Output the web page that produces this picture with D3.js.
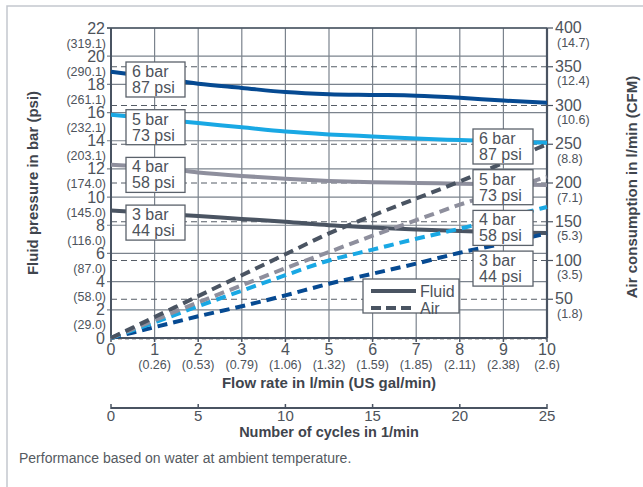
<!DOCTYPE html>
<html><head><meta charset="utf-8">
<script src="https://cdn.jsdelivr.net/npm/d3@7"></script>
<style>
body{margin:0;background:#fff;}
svg{display:block;font-family:"Liberation Sans",Arial,sans-serif;}
</style></head>
<body>
<svg id="c" width="643" height="487"></svg>
<script>
// ---- data ----
const flow = [0,1,2,3,4,5,6,7,8,9,10];
const fluid6 = [18.9,18.5,18.05,17.75,17.45,17.3,17.25,17.2,17.05,16.85,16.7];
const fluid5 = [15.85,15.55,15.25,14.95,14.65,14.45,14.3,14.15,14.05,13.95,13.85];
const fluid4 = [12.3,12.1,11.75,11.5,11.3,11.15,11.05,11.0,10.95,10.9,10.85];
const fluid3 = [9.05,8.85,8.65,8.45,8.25,8.0,7.85,7.7,7.6,7.5,7.45];
const air6 = [0,27,54,81,108,135,158,180,202,226,250];
const air5 = [0,23,46,68,90,111,132,152,172,190,208];
const air4 = [0,20,41,61,81,100,114,128,141,155,169];
const air3 = [0,14,28,41,55,70,83,96,110,122,135];
const barTicks = [0,2,4,6,8,10,12,14,16,18,20,22];
const psiLabels = ["","(29.0)","(58.0)","(87.0)","(116.0)","(145.0)","(174.0)","(203.1)","(232.1)","(261.1)","(290.1)","(319.1)"];
const flowTicks = [0,1,2,3,4,5,6,7,8,9,10];
const galLabels = ["","(0.26)","(0.53)","(0.79)","(1.06)","(1.32)","(1.59)","(1.85)","(2.11)","(2.38)","(2.6)"];
const airTicks = [50,100,150,200,250,300,350,400];
const cfmLabels = ["(1.8)","(3.5)","(5.3)","(7.1)","(8.8)","(10.6)","(12.4)","(14.7)"];
const cycleTicks = [0,5,10,15,20,25];
const leftLabels = ["6 bar|87 psi","5 bar|73 psi","4 bar|58 psi","3 bar|44 psi"];
const rightLabels = ["6 bar|87 psi","5 bar|73 psi","4 bar|58 psi","3 bar|44 psi"];

const C = {dark:"#064a92", light:"#19a8e4", gray:"#8e8f9d", slate:"#4a5462", axis:"#4a5462", grid:"#7b838d", text:"#4d535b"};

const svg = d3.select("#c");
const L = 111, R = 547, T = 28, B = 338;
const x = d3.scaleLinear().domain([0,10]).range([L,R]);
const y = d3.scaleLinear().domain([0,22]).range([B,T]);
const yA = d3.scaleLinear().domain([0,400]).range([B,T]);
const xc = d3.scaleLinear().domain([0,25]).range([L,R]);

// outer frame
svg.append("path").attr("d",`M7,487 L7,6 L643,6`).attr("fill","none").attr("stroke","#c3c7ce").attr("stroke-width",1.5);

// grid: vertical
const g = svg.append("g");
g.selectAll(".vg").data(flowTicks.slice(1,-1)).join("line")
  .attr("x1",d=>x(d)).attr("x2",d=>x(d)).attr("y1",T).attr("y2",B)
  .attr("stroke",C.grid).attr("stroke-width",1.2);
// grid: horizontal solid (bar)
g.selectAll(".hg").data(barTicks.slice(1)).join("line")
  .attr("x1",L-4).attr("x2",R).attr("y1",d=>y(d)).attr("y2",d=>y(d))
  .attr("stroke",C.grid).attr("stroke-width",1.2);
// grid: horizontal dashed (air)
g.selectAll(".ag").data(airTicks.slice(0,-1)).join("line")
  .attr("x1",L).attr("x2",R+4).attr("y1",d=>yA(d)).attr("y2",d=>yA(d))
  .attr("stroke","#555c66").attr("stroke-width",1).attr("stroke-dasharray","6,4");
// bottom dashed at 0
g.append("line").attr("x1",L).attr("x2",R).attr("y1",B+1).attr("y2",B+1)
  .attr("stroke","#888").attr("stroke-width",1).attr("stroke-dasharray","4,3");

// axes frame
svg.append("line").attr("x1",L).attr("x2",L).attr("y1",T).attr("y2",B).attr("stroke",C.axis).attr("stroke-width",2);
svg.append("line").attr("x1",R).attr("x2",R).attr("y1",T).attr("y2",B).attr("stroke",C.axis).attr("stroke-width",2.2);
svg.append("line").attr("x1",L).attr("x2",R).attr("y1",B).attr("y2",B).attr("stroke",C.axis).attr("stroke-width",2.2);
svg.append("line").attr("x1",L-4).attr("x2",R).attr("y1",T).attr("y2",T).attr("stroke",C.axis).attr("stroke-width",1.5);

// x ticks
svg.selectAll(".xt").data(flowTicks).join("line")
  .attr("x1",d=>x(d)).attr("x2",d=>x(d)).attr("y1",B).attr("y2",B+4).attr("stroke",C.axis).attr("stroke-width",1.5);
// right ticks
svg.selectAll(".rt").data(airTicks).join("line")
  .attr("x1",R).attr("x2",R+6).attr("y1",d=>yA(d)).attr("y2",d=>yA(d)).attr("stroke",C.axis).attr("stroke-width",1.2);

// lines
const lineB = d3.line().x((d,i)=>x(flow[i])).y(d=>y(d)).curve(d3.curveMonotoneX);
const lineA = d3.line().x((d,i)=>x(flow[i])).y(d=>yA(d)).curve(d3.curveMonotoneX);
const airSeries = [[air3,C.dark],[air4,C.light],[air5,C.gray],[air6,C.slate]];
const fluidSeries = [[fluid6,C.dark],[fluid5,C.light],[fluid4,C.gray],[fluid3,C.slate]];
svg.selectAll(".fl").data(fluidSeries).join("path")
  .attr("d",d=>lineB(d[0])).attr("fill","none").attr("stroke",d=>d[1]).attr("stroke-width",4);
svg.selectAll(".al").data(airSeries).join("path")
  .attr("d",d=>lineA(d[0])).attr("fill","none").attr("stroke",d=>d[1]).attr("stroke-width",4)
  .attr("stroke-dasharray","10,6");

// left axis labels
const txt = svg.append("g").attr("fill",C.text);
txt.selectAll(".bl").data(barTicks).join("text")
  .attr("x",105).attr("y",d=>y(d)+5.5).attr("text-anchor","end").attr("font-size",16).text(d=>d);
txt.selectAll(".pl").data(barTicks.slice(1)).join("text")
  .attr("x",106).attr("y",(d,i)=>y(d)+19.5).attr("text-anchor","end").attr("font-size",12.5)
  .text((d,i)=>psiLabels[barTicks.indexOf(d)]);
// bottom labels
txt.selectAll(".fx").data(flowTicks).join("text")
  .attr("x",d=>x(d)).attr("y",355).attr("text-anchor","middle").attr("font-size",16).text(d=>d);
txt.selectAll(".gx").data(flowTicks.slice(1)).join("text")
  .attr("x",d=>x(d)).attr("y",369).attr("text-anchor","middle").attr("font-size",12.5)
  .text(d=>galLabels[d]);
txt.append("text").attr("x",(L+R)/2).attr("y",388).attr("text-anchor","middle")
  .attr("font-size",15).attr("font-weight","bold").attr("fill","#3f454d").text("Flow rate in l/min (US gal/min)");
// right labels
txt.selectAll(".ar").data(airTicks).join("text")
  .attr("x",555).attr("y",d=>yA(d)+5).attr("font-size",16).text(d=>d);
txt.selectAll(".cr").data(airTicks).join("text")
  .attr("x",557).attr("y",d=>yA(d)+18.5).attr("font-size",12.5).text((d,i)=>cfmLabels[i]);

// cycles axis
const cy = 408;
svg.append("line").attr("x1",L).attr("x2",R).attr("y1",cy).attr("y2",cy).attr("stroke",C.axis).attr("stroke-width",2);
svg.selectAll(".ct").data(cycleTicks).join("line")
  .attr("x1",d=>xc(d)).attr("x2",d=>xc(d)).attr("y1",cy-4).attr("y2",cy+1).attr("stroke",C.axis).attr("stroke-width",1.5);
txt.selectAll(".cl").data(cycleTicks).join("text")
  .attr("x",d=>xc(d)).attr("y",421).attr("text-anchor","middle").attr("font-size",15).text(d=>d);
txt.append("text").attr("x",(L+R)/2).attr("y",437).attr("text-anchor","middle")
  .attr("font-size",14.5).attr("font-weight","bold").attr("fill","#3f454d").text("Number of cycles in 1/min");

// axis titles
txt.append("text").attr("transform",`translate(38,${(T+B)/2}) rotate(-90)`).attr("text-anchor","middle")
  .attr("font-size",15).attr("font-weight","bold").attr("fill","#3f454d").text("Fluid pressure in bar (psi)");
txt.append("text").attr("transform",`translate(637,${(T+B)/2+4}) rotate(-90)`).attr("text-anchor","middle")
  .attr("font-size",15).attr("font-weight","bold").attr("fill","#3f454d").text("Air consumption in l/min (CFM)");

// label boxes
function box(x0,y0,w,h,label){
  const gg = svg.append("g");
  gg.append("rect").attr("x",x0).attr("y",y0).attr("width",w).attr("height",h)
    .attr("fill","#fff").attr("stroke","#5b626b").attr("stroke-width",1.3);
  const parts = label.split("|");
  gg.append("text").attr("x",x0+6).attr("y",y0+15).attr("font-size",16).attr("fill",C.text).text(parts[0]);
  gg.append("text").attr("x",x0+6).attr("y",y0+31).attr("font-size",16).attr("fill",C.text).text(parts[1]);
}
leftLabels.forEach((l,i)=>box(126,62+i*47.7,59,35,l));
rightLabels.forEach((l,i)=>box(473,129+i*40.7,60,35,l));

// legend
const lg = svg.append("g");
lg.append("rect").attr("x",363).attr("y",279).attr("width",96).attr("height",34)
  .attr("fill","#fff").attr("stroke","#5b626b").attr("stroke-width",1.3);
lg.append("line").attr("x1",371).attr("x2",416).attr("y1",291).attr("y2",291).attr("stroke",C.slate).attr("stroke-width",4);
lg.append("line").attr("x1",371).attr("x2",416).attr("y1",308).attr("y2",308).attr("stroke",C.slate).attr("stroke-width",4).attr("stroke-dasharray","10,5");
lg.append("text").attr("x",420).attr("y",297).attr("font-size",16).attr("fill",C.text).text("Fluid");
lg.append("text").attr("x",420).attr("y",314).attr("font-size",16).attr("fill",C.text).text("Air");

// footer
svg.append("text").attr("x",19).attr("y",463).attr("font-size",14).attr("fill","#555a61")
  .text("Performance based on water at ambient temperature.");
</script>
</body></html>
